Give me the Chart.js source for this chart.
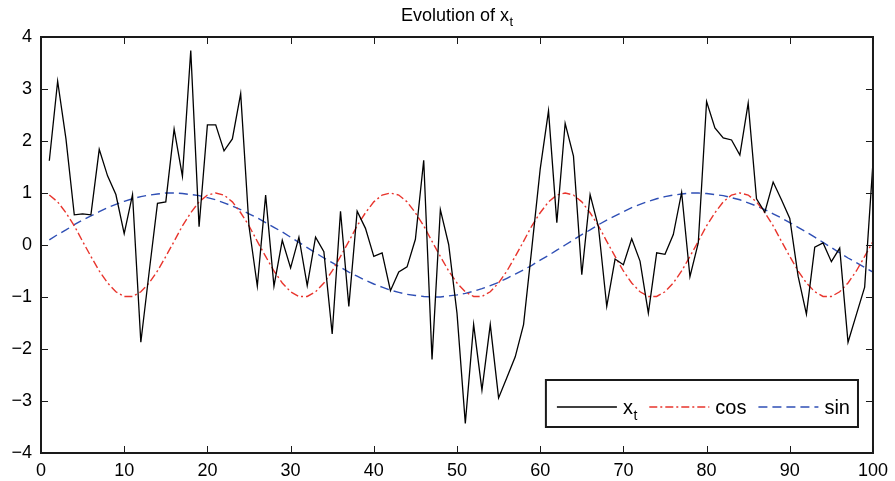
<!DOCTYPE html>
<html>
<head>
<meta charset="utf-8">
<title>Evolution of x_t</title>
<script src="https://cdn.jsdelivr.net/npm/chart.js@4.4.1/dist/chart.umd.min.js"></script>
<style>
  html, body { margin: 0; padding: 0; background: #ffffff; }
  #wrap { width: 895px; height: 481px; }
</style>
</head>
<body>
<div id="wrap"><canvas id="chart" width="895" height="481"></canvas></div>
<script>
// time steps
const steps = [1,2,3,4,5,6,7,8,9,10,11,12,13,14,15,16,17,18,19,20,
  21,22,23,24,25,26,27,28,29,30,31,32,33,34,35,36,37,38,39,40,
  41,42,43,44,45,46,47,48,49,50,51,52,53,54,55,56,57,58,59,60,
  61,62,63,64,65,66,67,68,69,70,71,72,73,74,75,76,77,78,79,80,
  81,82,83,84,85,86,87,88,89,90,91,92,93,94,95,96,97,98,99,100];

// observed process x_t
const xt = [1.62,3.15,2.04,0.58,0.60,0.58,1.84,1.33,0.97,0.22,
  0.97,-1.87,-0.52,0.80,0.83,2.23,1.32,3.74,0.35,2.31,
  2.31,1.81,2.04,2.91,0.36,-0.79,0.96,-0.79,0.09,-0.44,
  0.15,-0.78,0.15,-0.13,-1.71,0.65,-1.18,0.65,0.32,-0.22,
  -0.15,-0.88,-0.52,-0.42,0.11,1.63,-2.20,0.68,0.01,-1.31,
  -3.43,-1.53,-2.79,-1.53,-2.94,-2.55,-2.15,-1.53,-0.05,1.46,
  2.58,0.43,2.34,1.71,-0.57,0.97,0.35,-1.18,-0.27,-0.38,
  0.12,-0.31,-1.31,-0.15,-0.18,0.20,1.01,-0.61,0.04,2.76,
  2.25,2.06,2.02,1.73,2.73,0.89,0.63,1.21,0.87,0.51,
  -0.60,-1.33,-0.04,0.04,-0.32,-0.06,-1.87,-1.34,-0.81,1.59];

// cosine component
const cosWave = [0.96,0.83,0.62,0.37,0.07,-0.22,-0.50,-0.73,-0.90,-0.99,
  -0.99,-0.90,-0.73,-0.50,-0.22,0.07,0.37,0.62,0.83,0.96,
  1.00,0.96,0.83,0.62,0.37,0.07,-0.22,-0.50,-0.73,-0.90,
  -0.99,-0.99,-0.90,-0.73,-0.50,-0.22,0.07,0.37,0.62,0.83,
  0.96,1.00,0.96,0.83,0.62,0.37,0.07,-0.22,-0.50,-0.73,
  -0.90,-0.99,-0.99,-0.90,-0.73,-0.50,-0.22,0.07,0.37,0.62,
  0.83,0.96,1.00,0.96,0.83,0.62,0.37,0.07,-0.22,-0.50,
  -0.73,-0.90,-0.99,-0.99,-0.90,-0.73,-0.50,-0.22,0.07,0.37,
  0.62,0.83,0.96,1.00,0.96,0.83,0.62,0.37,0.07,-0.22,
  -0.50,-0.73,-0.90,-0.99,-0.99,-0.90,-0.73,-0.50,-0.22,0.07];

// sine component
const sinWave = [0.10,0.20,0.29,0.39,0.48,0.56,0.64,0.72,0.78,0.84,
  0.89,0.93,0.96,0.98,1.00,1.00,0.99,0.97,0.95,0.91,
  0.87,0.81,0.75,0.68,0.60,0.52,0.43,0.34,0.25,0.15,
  0.05,-0.05,-0.15,-0.25,-0.34,-0.43,-0.52,-0.60,-0.68,-0.75,
  -0.81,-0.87,-0.91,-0.95,-0.97,-0.99,-1.00,-1.00,-0.98,-0.96,
  -0.93,-0.89,-0.84,-0.78,-0.72,-0.64,-0.56,-0.48,-0.39,-0.29,
  -0.20,-0.10,0.00,0.10,0.20,0.29,0.39,0.48,0.56,0.64,
  0.72,0.78,0.84,0.89,0.93,0.96,0.98,1.00,1.00,0.99,
  0.97,0.95,0.91,0.87,0.81,0.75,0.68,0.60,0.52,0.43,
  0.34,0.25,0.15,0.05,-0.05,-0.15,-0.25,-0.34,-0.43,-0.52];

// axis ticks
const xTicks = [0,10,20,30,40,50,60,70,80,90,100];
const yTicks = [-4,-3,-2,-1,0,1,2,3,4];

// title and legend texts (main part, subscript)
const titleText = ['Evolution of x', 't'];
const legendItems = [
  { main: 'x', sub: 't' },
  { main: 'cos', sub: '' },
  { main: 'sin', sub: '' }
];

const FONT = '"Liberation Sans", Arial, Helvetica, sans-serif';
const INK = '#1a1a1a';
const RED = '#e8342c';
const BLUE = '#2f4fb5';
const styles = [
  { color: '#000000', dash: [], width: 1.3 },
  { color: RED, dash: [8, 3, 2, 3], width: 1.4 },
  { color: BLUE, dash: [9, 5], width: 1.4 }
];

const toPoints = vals => steps.map((t, i) => ({ x: t, y: vals[i] }));
const seriesValues = [xt, cosWave, sinWave];

// draw a text with an optional subscript; returns total width
function textWithSub(ctx, x, y, main, sub, size) {
  ctx.font = size + 'px ' + FONT;
  ctx.fillText(main, x, y);
  let w = ctx.measureText(main).width;
  if (sub) {
    const s = Math.round(size * 0.72);
    ctx.font = s + 'px ' + FONT;
    ctx.fillText(sub, x + w + 0.5, y + size * 0.28);
    w += 0.5 + ctx.measureText(sub).width;
  }
  return w;
}

function measureWithSub(ctx, main, sub, size) {
  ctx.font = size + 'px ' + FONT;
  let w = ctx.measureText(main).width;
  if (sub) {
    ctx.font = Math.round(size * 0.72) + 'px ' + FONT;
    w += 0.5 + ctx.measureText(sub).width;
  }
  return w;
}

// axes box, inward ticks, title and in-plot legend
const framePlugin = {
  id: 'framePlugin',
  afterDatasetsDraw(chart) {
    const { ctx, chartArea: a, scales } = chart;
    const sx = scales.x, sy = scales.y;
    ctx.save();

    // inward ticks on all four sides
    ctx.strokeStyle = INK;
    ctx.lineWidth = 1;
    ctx.setLineDash([]);
    ctx.beginPath();
    xTicks.forEach(v => {
      const px = Math.round(sx.getPixelForValue(v)) + 0.5;
      ctx.moveTo(px, a.bottom); ctx.lineTo(px, a.bottom - 7);
      ctx.moveTo(px, a.top); ctx.lineTo(px, a.top + 7);
    });
    yTicks.forEach(v => {
      const py = Math.round(sy.getPixelForValue(v)) + 0.5;
      ctx.moveTo(a.left, py); ctx.lineTo(a.left + 7, py);
      ctx.moveTo(a.right, py); ctx.lineTo(a.right - 7, py);
    });
    ctx.stroke();

    // box
    ctx.lineWidth = 2;
    ctx.strokeRect(a.left, a.top, a.right - a.left, a.bottom - a.top);

    // title
    ctx.fillStyle = '#000';
    ctx.textBaseline = 'alphabetic';
    ctx.textAlign = 'left';
    const tSize = 18;
    const tw = measureWithSub(ctx, titleText[0], titleText[1], tSize);
    textWithSub(ctx, (a.left + a.right) / 2 - tw / 2, 21, titleText[0], titleText[1], tSize);

    // legend
    const lSize = 20;
    const sample = 60, gapIn = 6, gapOut = 12, padL = 11, padR = 8;
    let content = padL;
    legendItems.forEach((it, i) => {
      content += sample + gapIn + measureWithSub(ctx, it.main, it.sub, lSize);
      if (i < legendItems.length - 1) content += gapOut;
    });
    content += padR;
    const boxH = 47;
    const boxR = a.right - 15, boxB = a.bottom - 26;
    const boxL = boxR - content, boxT = boxB - boxH;
    ctx.fillStyle = '#ffffff';
    ctx.fillRect(boxL, boxT, content, boxH);
    ctx.strokeStyle = INK;
    ctx.lineWidth = 2;
    ctx.strokeRect(boxL, boxT, content, boxH);

    let x = boxL + padL;
    const ly = boxT + 27, by = boxT + 34;
    legendItems.forEach((it, i) => {
      const st = styles[i];
      ctx.save();
      ctx.strokeStyle = st.color;
      ctx.lineWidth = st.width;
      ctx.setLineDash(st.dash);
      ctx.beginPath();
      ctx.moveTo(x, ly); ctx.lineTo(x + sample, ly);
      ctx.stroke();
      ctx.restore();
      x += sample + gapIn;
      ctx.fillStyle = '#000';
      x += textWithSub(ctx, x, by, it.main, it.sub, lSize) + gapOut;
    });

    ctx.restore();
  }
};

new Chart(document.getElementById('chart'), {
  type: 'line',
  data: {
    datasets: seriesValues.map((vals, i) => ({
      label: legendItems[i].main + legendItems[i].sub,
      data: toPoints(vals),
      borderColor: styles[i].color,
      borderWidth: styles[i].width,
      borderDash: styles[i].dash,
      pointRadius: 0,
      tension: 0,
      fill: false
    }))
  },
  options: {
    responsive: false,
    animation: false,
    events: [],
    layout: { padding: { top: 37, right: 20, left: 0, bottom: 0 } },
    plugins: {
      legend: { display: false },
      title: { display: false },
      tooltip: { enabled: false }
    },
    scales: {
      x: {
        type: 'linear',
        min: 0, max: 100,
        afterBuildTicks: s => { s.ticks = xTicks.map(v => ({ value: v })); },
        afterFit: s => { s.height = 28; },
        grid: { display: false, drawTicks: false },
        border: { display: false },
        ticks: {
          autoSkip: false, maxRotation: 0, padding: 7,
          color: '#000',
          font: { family: FONT, size: 18 }
        }
      },
      y: {
        type: 'linear',
        min: -4, max: 4,
        afterBuildTicks: s => { s.ticks = yTicks.map(v => ({ value: v })); },
        afterFit: s => { s.width = 41; },
        grid: { display: false, drawTicks: false },
        border: { display: false },
        ticks: {
          autoSkip: false, padding: 9,
          color: '#000',
          font: { family: FONT, size: 18 },
          callback: v => (v < 0 ? '\u2212' + Math.abs(v) : String(v))
        }
      }
    }
  },
  plugins: [framePlugin]
});
</script>
</body>
</html>
